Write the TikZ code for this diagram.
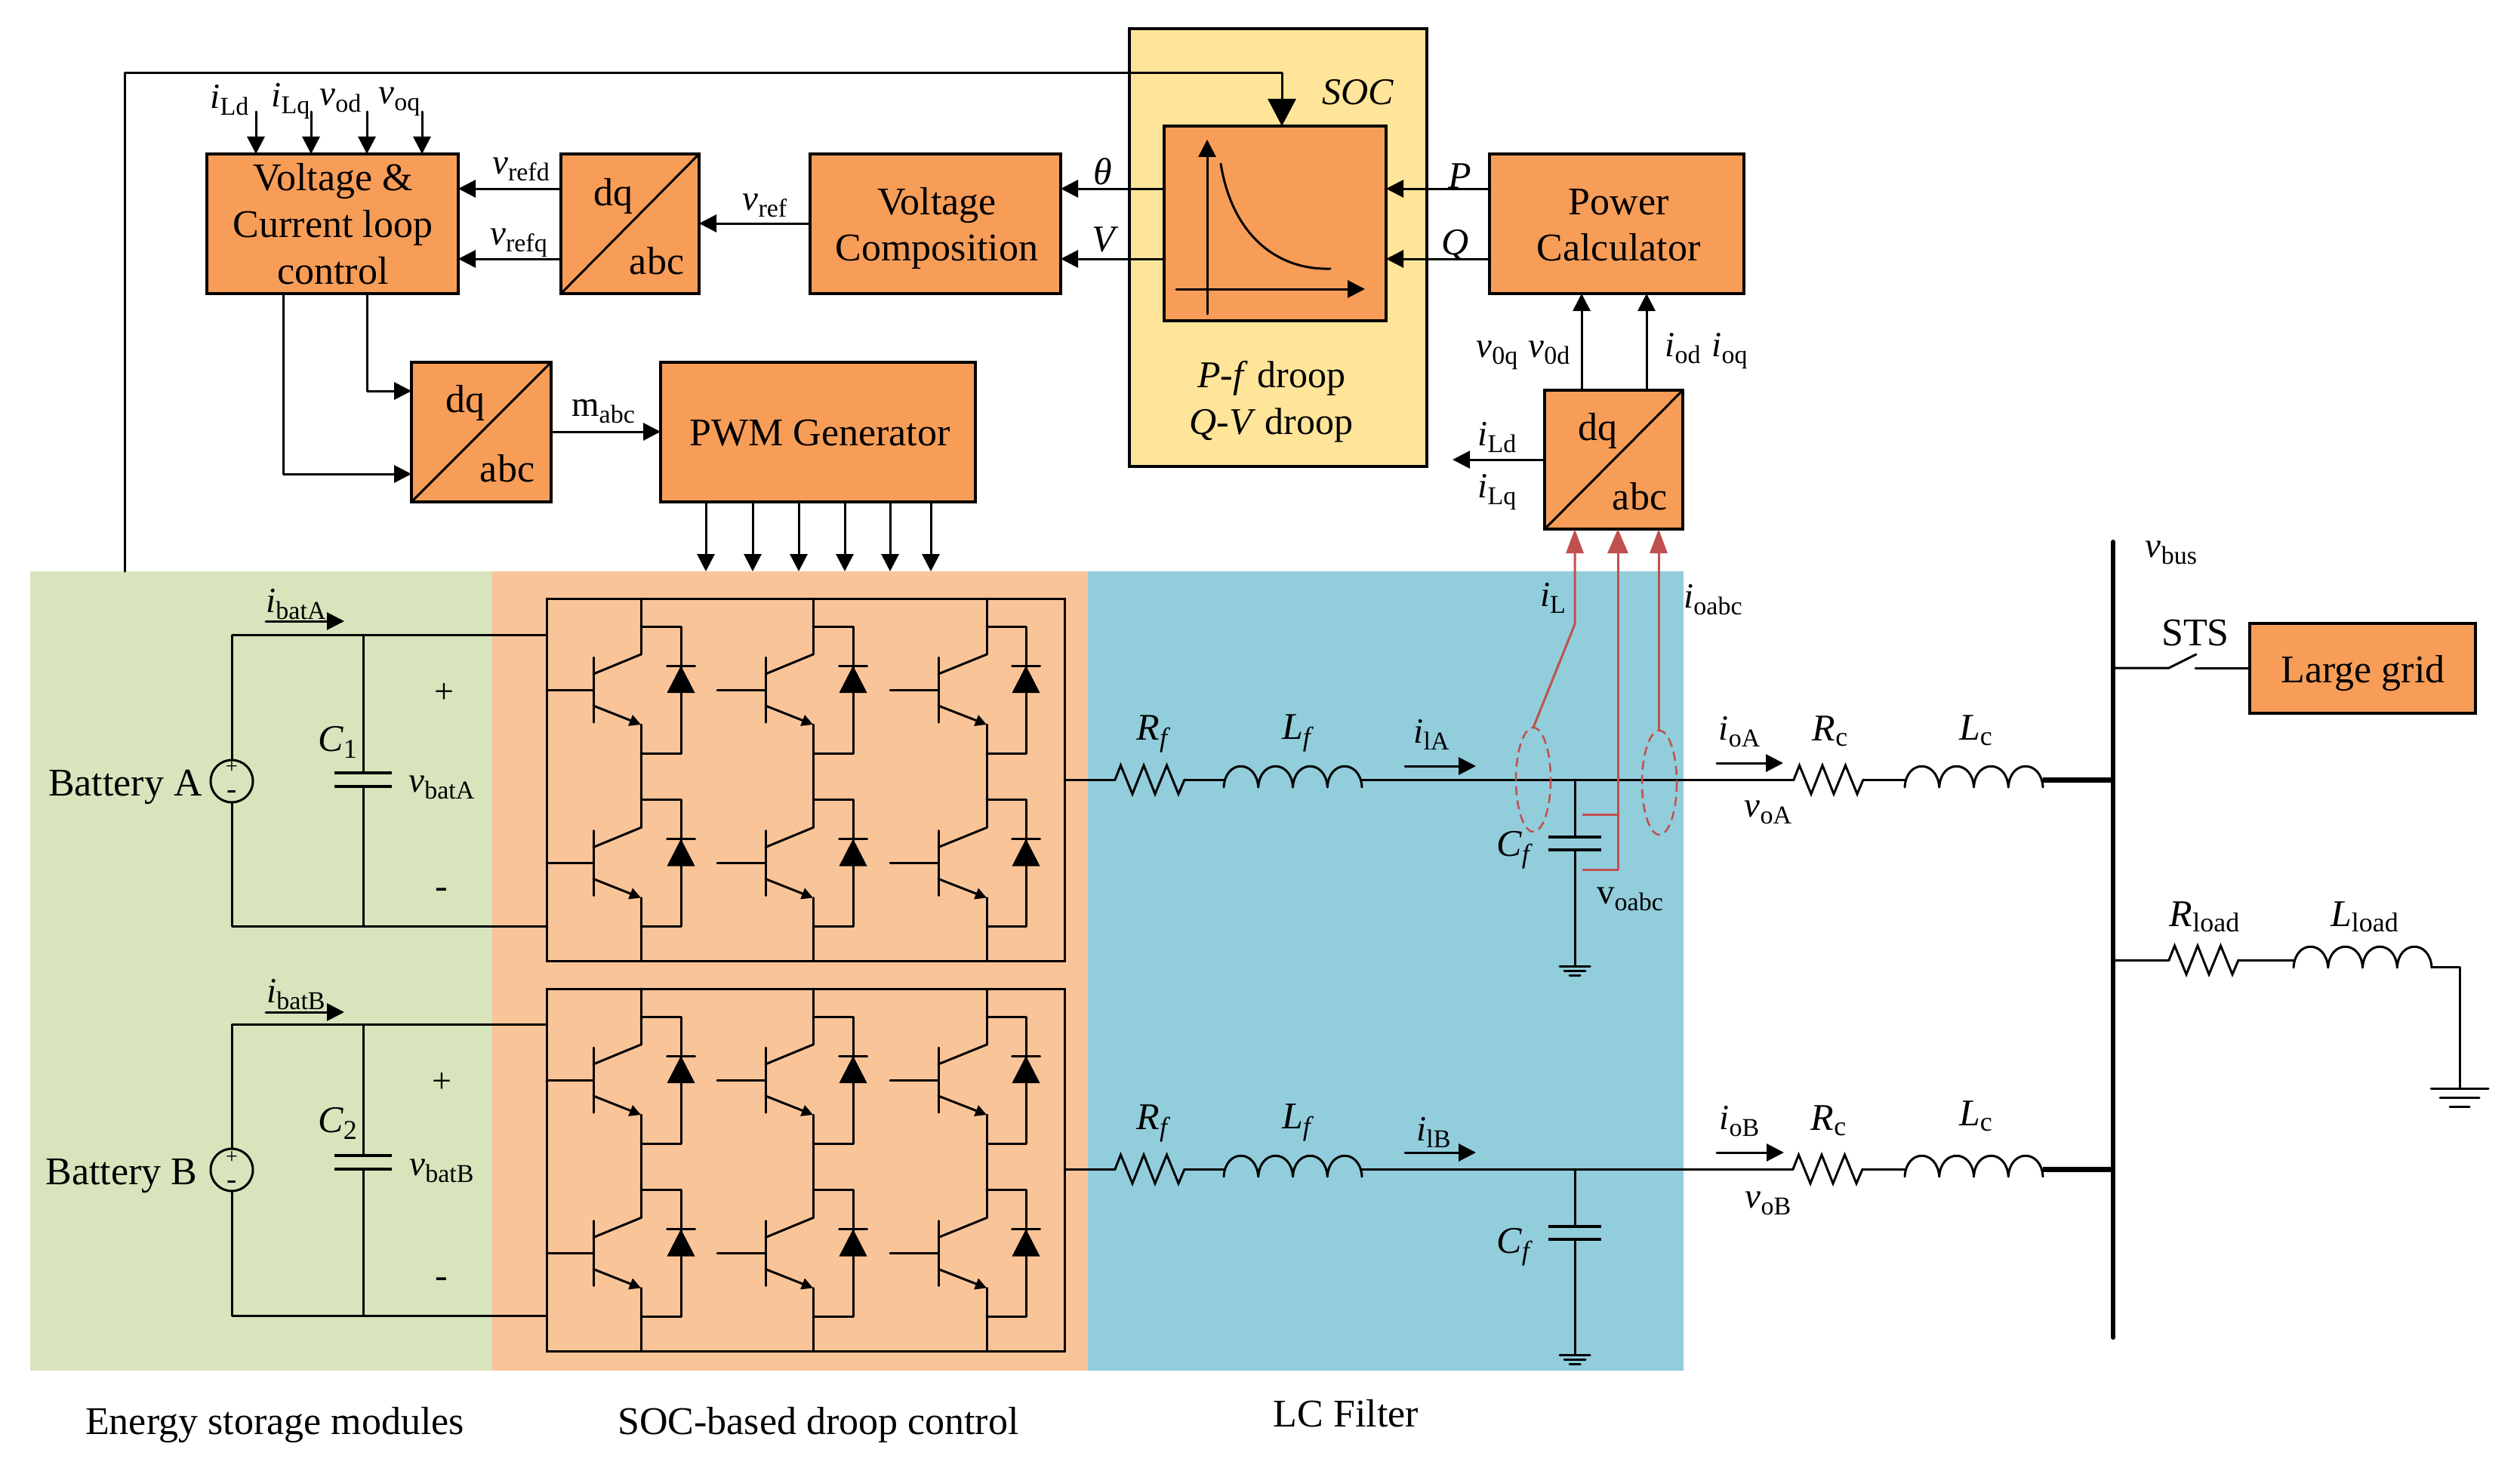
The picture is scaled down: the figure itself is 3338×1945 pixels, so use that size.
\documentclass[tikz,border=0pt]{standalone}
\usepackage{fontspec}
\setmainfont{Liberation Serif}
\usetikzlibrary{arrows.meta}
\definecolor{boxor}{HTML}{F79D58}
\definecolor{bggreen}{HTML}{D8E4BC}
\definecolor{bgpeach}{HTML}{FAC499}
\definecolor{bgblue}{HTML}{92CDDC}
\definecolor{bgyel}{HTML}{FFE599}
\definecolor{redl}{HTML}{C0504D}
\newcommand\fs[1]{\fontsize{#1}{#1}\selectfont}
\newcommand\lb[2]{{\fs{47}\textit{#1}\raisebox{-9pt}{\fs{34}#2}}}
\newcommand\lu[2]{{\fs{47}#1\raisebox{-9pt}{\fs{34}#2}}}
\newcommand\rectn[7]{\node[#1,minimum width={#5-#3},minimum height={#6-#4}] (#2) at ({(#3+#5)/2},{(#4+#6)/2}) {#7};}
\newcommand\resis[3]{% name x y
  \coordinate (#1-l) at (#2,#3); \coordinate (#1-r) at (#2+92,#3);
  \begin{scope}[shift={(#2,#3)}]
  \draw[wire,line join=miter] (0,0)--(7.5,-19)--(23,19)--(38,-19)--(53,19)--(68.5,-19)--(84,19)--(92,0);
  \end{scope}}
\newcommand\induc[3]{% name x y
  \coordinate (#1-l) at (#2,#3); \coordinate (#1-r) at (#2+183,#3);
  \begin{scope}[shift={(#2,#3)}]
  \draw[wire] (0,10) .. controls (2,-27) and (43,-27) .. (45.75,10)
    .. controls (47.75,-27) and (89.5,-27) .. (91.5,10)
    .. controls (93.5,-27) and (135.25,-27) .. (137.25,10)
    .. controls (139.25,-27) and (181,-27) .. (183,10);
  \end{scope}}
\newcommand\capac[5]{% x ytop ybot halfwidth lw
  \draw[line width=#5] (#1-#4,#2)--(#1+#4,#2) (#1-#4,#3)--(#1+#4,#3);}
\newcommand\gnd[5]{% x y w1 w2 w3
  \draw[wire] (#1-#3,#2)--(#1+#3,#2) (#1-#4,#2+#5)--(#1+#4,#2+#5) (#1-#4/2,#2+2*#5)--(#1+#4/2,#2+2*#5);}
\newcommand\leg[5]{% main bar start diode y-offset
  \begin{scope}[shift={(0,#5)}]
  \draw[wire] (#2,871)--(#2,957) (#3,914)--(#2,914);
  \draw[wire] (#2,893)--(#1,867);
  \draw[wire,-{Triangle[length=15pt,width=15pt]}] (#2,935)--(#1,960);
  \draw[wire] (#1,830)--(#4,830)--(#4,998)--(#1,998);
  \draw[wire] (#4-18.5,882)--(#4+18.5,882);
  \fill (#4,882)--(#4+18.5,918)--(#4-18.5,918)--cycle;
  \end{scope}}
\newcommand\inverter[2]{% name y offset
  \begin{scope}[shift={(0,#2)}]
  \node[draw,line width=3pt,minimum width=686,minimum height=480,inner sep=0,outer sep=0] (#1) at (1067,1033) {};
  \foreach \mm/\bb/\ss/\dd in {849/786/724/902,1077/1014/950/1130,1307/1243/1179/1359}{
    \draw[wire] (\mm,793)--(\mm,867) (\mm,960)--(\mm,1096.5) (\mm,1189.5)--(\mm,1273);
    \leg{\mm}{\bb}{\ss}{\dd}{0}
    \leg{\mm}{\bb}{\ss}{\dd}{229.5}
  }
  \end{scope}}
\tikzset{
  wire/.style={line width=3pt,line cap=round,line join=round},
  thick wire/.style={line width=7pt},
  arr/.style={wire,-{Triangle[length=23pt,width=23pt]}},
  redarr/.style={line width=3pt,color=redl,line join=round,-{Triangle[length=32pt,width=23pt]}},
  redw/.style={line width=3pt,color=redl,line join=round},
  reddash/.style={line width=2.5pt,color=redl,dash pattern=on 12pt off 7pt},
  blockb/.style={draw,line width=3.5pt,fill=boxor,inner sep=0,outer sep=0},
  bg/.style={inner sep=0,outer sep=0},
  txt/.style={inner sep=0,outer sep=0,anchor=base,font=\fs{52}},
  lab/.style={inner sep=0,outer sep=0,anchor=base},
}
\begin{document}
\begin{tikzpicture}[x=1pt,y=-1pt]
\useasboundingbox (0,0) rectangle (3338,1945);
% backgrounds
\rectn{bg,fill=bggreen}{bgG}{40}{757}{652}{1816}{}
\rectn{bg,fill=bgpeach}{bgP}{652}{757}{1441}{1816}{}
\rectn{bg,fill=bgblue}{bgB}{1441}{757}{2230}{1816}{}
\rectn{draw,line width=3.5pt,fill=bgyel,inner sep=0,outer sep=0}{soc}{1496}{38}{1890}{618}{}
% blocks
\rectn{blockb}{vc}{274}{204}{607}{389}{}
\rectn{blockb}{dqa}{743}{204}{926}{389}{}
\rectn{blockb}{comp}{1073}{204}{1405}{389}{}
\rectn{blockb}{dqb}{545}{480}{730}{665}{}
\rectn{blockb}{pwm}{875}{480}{1292}{665}{}
\rectn{blockb}{droop}{1542}{167}{1836}{425}{}
\rectn{blockb}{pc}{1973}{204}{2310}{389}{}
\rectn{blockb}{dqc}{2046}{517}{2229}{701}{}
\rectn{blockb}{grid}{2980}{826}{3279}{945}{}
\foreach \n in {dqa,dqb,dqc}{\draw[line width=3pt] (\n.south west)--(\n.north east);}
\node[txt] (v1) at (441,252) {Voltage \&};
\node[txt] (v2) at (441,314) {Current loop};
\node[txt] (v3) at (441,376) {control};
\node[txt] (v4) at (1241,284) {Voltage};
\node[txt] (v5) at (1241,345) {Composition};
\node[txt] (v6) at (2144,284) {Power};
\node[txt] (v7) at (2144,345) {Calculator};
\node[txt] (v8) at (1086,590) {PWM Generator};
\node[txt] (v9) at (3130,904) {Large grid};
\node[txt] (t1) at (812,272) {dq};
\node[txt] (t2) at (870,363) {abc};
\node[txt] (t3) at (616,546) {dq};
\node[txt] (t4) at (672,638) {abc};
\node[txt] (t5) at (2116,583) {dq};
\node[txt] (t6) at (2172,675) {abc};
% top feedback
\coordinate (tap) at (165,757);
\draw[wire] (tap)--(165,97)--(1698,97);
\draw[wire,-{Triangle[length=36pt,width=37pt]}] (1698,97)--(1698,0 |- droop.north);
% top arrows
\foreach \xx in {339,412,486,559}{\draw[arr] (\xx,148)--(\xx,0 |- vc.north);}
\node[lab] (a1) at (304,144) {\lb{i}{Ld}};
\node[lab] (a2) at (385,142) {\lb{i}{Lq}};
\node[lab] (a3) at (451,140) {\lb{v}{od}};
\node[lab] (a4) at (529,138) {\lb{v}{oq}};
\draw[arr] (dqa.west |- 0,250)--(vc.east |- 0,250);
\draw[arr] (dqa.west |- 0,343)--(vc.east |- 0,343);
\node[lab] (a5) at (690,231) {\lb{v}{refd}};
\node[lab] (a6) at (687,324) {\lb{v}{refq}};
\draw[arr] (comp.west |- 0,296)--(dqa.east |- 0,296);
\node[lab] (a7) at (1013,278) {\lb{v}{ref}};
\draw[arr] (486,0 |- vc.south)--(486,518)--(dqb.west |- 0,518);
\draw[arr] (375,0 |- vc.south)--(375,628)--(dqb.west |- 0,628);
\draw[arr] (dqb.east |- 0,572)--(pwm.west |- 0,572);
\node[lab] (a8) at (799,551) {\lu{m}{abc}};
\foreach \xx in {935,997,1058,1119,1179,1233}{\draw[arr] (\xx,0 |- pwm.south)--(\xx,0 |- bgP.north);}
% droop graph
\draw[wire,-{Triangle[length=23pt,width=23pt]}] (1599,416)--(1599,185);
\draw[wire,-{Triangle[length=23pt,width=23pt]}] (1558,383)--(1808,383);
\draw[wire] (1617,217) .. controls (1632,310) and (1690,358) .. (1762,356);
\node[lab] (s1) at (1799,139) {\fs{50}\textit{SOC}};
\node[lab] (s2) at (1684,513) {\fs{50}\textit{P-f} droop};
\node[lab] (s3) at (1684,575) {\fs{50}\textit{Q-V} droop};
\draw[arr] (droop.west |- 0,250)--(comp.east |- 0,250);
\draw[arr] (droop.west |- 0,343)--(comp.east |- 0,343);
\draw[arr] (pc.west |- 0,250)--(droop.east |- 0,250);
\draw[arr] (pc.west |- 0,343)--(droop.east |- 0,343);
\node[lab] (s4) at (1461,244) {\fs{50}\textit{θ}};
\node[lab] (s5) at (1464,333) {\fs{50}\textit{V}};
\node[lab] (s6) at (1934,249) {\fs{50}\textit{P}};
\node[lab] (s7) at (1928,337) {\fs{50}\textit{Q}};
\draw[arr] (2095,0 |- dqc.north)--(2095,0 |- pc.south);
\draw[arr] (2181,0 |- dqc.north)--(2181,0 |- pc.south);
\node[lab] (s8) at (1983,473) {\lb{v}{0q}};
\node[lab] (s9) at (2052,473) {\lb{v}{0d}};
\node[lab] (s10) at (2229,472) {\lb{i}{od}};
\node[lab] (s11) at (2291,472) {\lb{i}{oq}};
\coordinate (iout) at (1924,609);
\draw[arr] (dqc.west |- iout)--(iout);
\node[lab] (s12) at (1983,590) {\lb{i}{Ld}};
\node[lab] (s13) at (1983,659) {\lb{i}{Lq}};
% inverters
\inverter{invA}{0}
\inverter{invB}{517}
% battery A
\node[draw,circle,line width=3pt,minimum size=56,inner sep=0,outer sep=0] (srcA) at (307,1035) {};
\draw[wire] (srcA.north)--(307,841)--(invA.west |- 0,841);
\draw[wire] (srcA.south)--(307,1227)--(invA.west |- 0,1227);
\node[lab,anchor=center] (pA) at (307,1017) {\fs{28}+};
\node[lab,anchor=center] (mA) at (307,1053) {\fs{40}-};
\draw[wire] (481,841)--(481,1024) (481,1042)--(481,1227);
\capac{481}{1024}{1042}{38}{4pt}
\node[lab] (b1) at (166,1054) {\fs{52}Battery A};
\node[lab] (b2) at (447,995) {\fs{50}\textit{C}\raisebox{-9pt}{\fs{36}1}};
\node[lab] (b3) at (585,1049) {\lb{v}{batA}};
\node[lab,anchor=center] (b4) at (588,918) {\fs{46}+};
\node[lab,anchor=center] (b5) at (585,1184) {\fs{50}-};
\node[lab] (b6) at (392,811) {\lb{i}{batA}};
\coordinate (ba) at (352,823); \coordinate (bb) at (456,823);
\draw[arr] (ba)--(bb);
% battery B
\node[draw,circle,line width=3pt,minimum size=56,inner sep=0,outer sep=0] (srcB) at (307,1550) {};
\draw[wire] (srcB.north)--(307,1357)--(invB.west |- 0,1357);
\draw[wire] (srcB.south)--(307,1743)--(invB.west |- 0,1743);
\node[lab,anchor=center] (pB) at (307,1534) {\fs{28}+};
\node[lab,anchor=center] (mB) at (307,1570) {\fs{40}-};
\draw[wire] (481,1357)--(481,1531) (481,1549)--(481,1743);
\capac{481}{1531}{1549}{38}{4pt}
\node[lab] (c1) at (161,1569) {\fs{52}Battery B};
\node[lab] (c2) at (447,1500) {\fs{50}\textit{C}\raisebox{-9pt}{\fs{36}2}};
\node[lab] (c3) at (585,1557) {\lb{v}{batB}};
\node[lab,anchor=center] (c4) at (585,1434) {\fs{46}+};
\node[lab,anchor=center] (c5) at (585,1700) {\fs{50}-};
\node[lab] (c6) at (392,1328) {\lb{i}{batB}};
\coordinate (bc) at (352,1341); \coordinate (bd) at (456,1341);
\draw[arr] (bc)--(bd);
% LC A
\resis{RfA}{1477}{1033}
\induc{LfA}{1621}{1033}
\resis{RcA}{2376}{1033}
\induc{LcA}{2523}{1033}
\draw[wire] (invA.east |- RfA-l)--(RfA-l) (RfA-r)--(LfA-l) (LfA-r)--(RcA-l) (RcA-r)--(LcA-l);
\draw[thick wire] (LcA-r)--(2799,1033);
\node[lab] (d1) at (1528,980) {\fs{50}\textit{R}\raisebox{-9pt}{\fs{36}\textit{f}}};
\node[lab] (d2) at (1719,979) {\fs{50}\textit{L}\raisebox{-9pt}{\fs{36}\textit{f}}};
\node[lab] (d3) at (1896,984) {\lb{i}{lA}};
\draw[arr] (1861,1015)--(1955,1015);
\node[lab] (d4) at (2304,980) {\lb{i}{oA}};
\draw[arr] (2274,1011)--(2362,1011);
\node[lab] (d5) at (2342,1082) {\lb{v}{oA}};
\node[lab] (d6) at (2424,981) {\fs{50}\textit{R}\raisebox{-7pt}{\fs{36}c}};
\node[lab] (d7) at (2617,980) {\fs{50}\textit{L}\raisebox{-7pt}{\fs{36}c}};
\draw[wire] (2086,1033)--(2086,1109) (2086,1126)--(2086,1280);
\capac{2086}{1109}{1126}{35}{4pt}
\gnd{2086}{1280}{20}{14}{6}
\node[lab] (d8) at (2006,1134) {\fs{50}\textit{C}\raisebox{-9pt}{\fs{36}\textit{f}}};
% sensing
\coordinate (ctA) at (2031,1033); \coordinate (ctB) at (2198,1037);
\draw[reddash] (ctA) ellipse [x radius=23,y radius=69];
\draw[reddash] (ctB) ellipse [x radius=23,y radius=69];
\draw[redarr] (2031,964)--(2086,827)--(2086,0 |- dqc.south);
\draw[redarr] (2197,968)--(2197,0 |- dqc.south);
\draw[redw] (2096,1079)--(2143,1079);
\draw[redw,-{Triangle[length=32pt,width=27pt]}] (2096,1152)--(2143,1152)--(2143,0 |- dqc.south);
\node[lab] (d9) at (2057,803) {\lb{i}{L}};
\node[lab] (d10) at (2269,805) {\lb{i}{oabc}};
\node[lab] (d11) at (2159,1197) {\lu{v}{oabc}};
% LC B
\resis{RfB}{1477}{1549}
\induc{LfB}{1621}{1549}
\resis{RcB}{2375}{1549}
\induc{LcB}{2523}{1549}
\draw[wire] (invB.east |- RfB-l)--(RfB-l) (RfB-r)--(LfB-l) (LfB-r)--(RcB-l) (RcB-r)--(LcB-l);
\draw[thick wire] (LcB-r)--(2799,1549);
\node[lab] (e1) at (1528,1496) {\fs{50}\textit{R}\raisebox{-9pt}{\fs{36}\textit{f}}};
\node[lab] (e2) at (1719,1495) {\fs{50}\textit{L}\raisebox{-9pt}{\fs{36}\textit{f}}};
\node[lab] (e3) at (1899,1511) {\lb{i}{lB}};
\draw[arr] (1861,1527)--(1955,1527);
\node[lab] (e4) at (2304,1496) {\lb{i}{oB}};
\draw[arr] (2274,1527)--(2363,1527);
\node[lab] (e5) at (2342,1600) {\lb{v}{oB}};
\node[lab] (e6) at (2422,1497) {\fs{50}\textit{R}\raisebox{-7pt}{\fs{36}c}};
\node[lab] (e7) at (2617,1491) {\fs{50}\textit{L}\raisebox{-7pt}{\fs{36}c}};
\draw[wire] (2086,1549)--(2086,1625) (2086,1642)--(2086,1795);
\capac{2086}{1625}{1642}{35}{4pt}
\gnd{2086}{1795}{20}{14}{6}
\node[lab] (e8) at (2006,1660) {\fs{50}\textit{C}\raisebox{-9pt}{\fs{36}\textit{f}}};
% bus
\coordinate (bust) at (2799,718); \coordinate (busb) at (2799,1772);
\draw[line width=6pt,line cap=round] (bust)--(busb);
\node[lab] (f1) at (2876,738) {\lb{v}{bus}};
\draw[wire] (2799,885)--(2873,885)--(2909,867);
\draw[wire] (2908,885)--(grid.west |- 0,885);
\node[lab] (f2) at (2908,855) {\fs{52}STS};
% load
\resis{Rl}{2873}{1272}
\induc{Ll}{3038}{1272}
\coordinate (lg) at (3258,1442);
\draw[wire] (2799,1272)--(Rl-l) (Rl-r)--(Ll-l);
\draw[wire] (3221,1281)--(3258,1281)--(lg);
\gnd{3258}{1442}{38}{26}{12}
\node[lab] (f3) at (2920,1227) {\fs{50}\textit{R}\raisebox{-7pt}{\fs{36}load}};
\node[lab] (f4) at (3132,1227) {\fs{50}\textit{L}\raisebox{-7pt}{\fs{36}load}};
% bottom labels
\node[txt] (g1) at (364,1900) {Energy storage modules};
\node[txt] (g2) at (1084,1900) {SOC-based droop control};
\node[txt] (g3) at (1783,1890) {LC Filter};
\end{tikzpicture}
\end{document}
